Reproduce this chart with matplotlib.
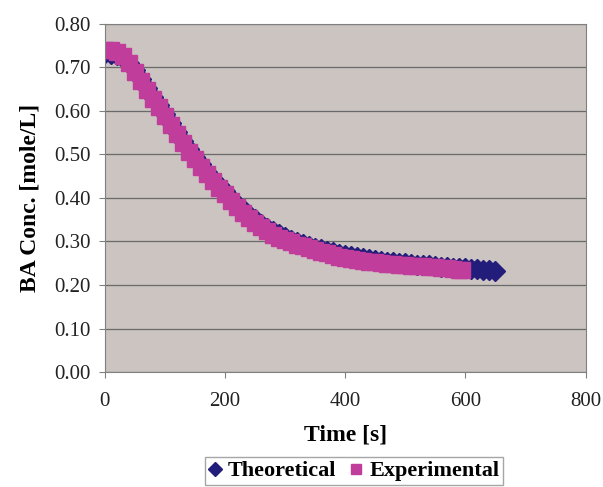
import matplotlib.pyplot as plt

# Experimental data (time [s], concentration [mole/L])
t_exp = [0, 10, 20, 30, 40, 50, 60, 70, 80, 90, 100, 110, 120, 130, 140,
         150, 160, 170, 180, 190, 200, 210, 220, 230, 240, 250, 260, 270,
         280, 290, 300, 310, 320, 330, 340, 350, 360, 370, 380, 390, 400,
         410, 420, 430, 440, 450, 460, 470, 480, 490, 500, 510, 520, 530,
         540, 550, 560, 570, 580, 590, 595]
c_exp = [0.740, 0.740, 0.736, 0.726, 0.710, 0.690, 0.669, 0.648, 0.628,
         0.608, 0.588, 0.567, 0.546, 0.526, 0.506, 0.489, 0.471, 0.455,
         0.439, 0.423, 0.408, 0.393, 0.379, 0.366, 0.354, 0.343, 0.333,
         0.324, 0.316, 0.309, 0.303, 0.298, 0.293, 0.289, 0.285, 0.281,
         0.277, 0.273, 0.269, 0.265, 0.262, 0.259, 0.257, 0.255, 0.253,
         0.252, 0.250, 0.249, 0.248, 0.246, 0.245, 0.244, 0.243, 0.243,
         0.242, 0.241, 0.240, 0.239, 0.237, 0.235, 0.234]

# Theoretical model
t_theo = [0, 10, 20, 30, 40, 50, 60, 70, 80, 90, 100, 110, 120, 130, 140,
          150, 160, 170, 180, 190, 200, 210, 220, 230, 240, 250, 260, 270,
          280, 290, 300, 310, 320, 330, 340, 350, 360, 370, 380, 390, 400,
          410, 420, 430, 440, 450, 460, 470, 480, 490, 500, 510, 520, 530,
          540, 550, 560, 570, 580, 590, 600, 610, 620, 630, 640, 650]
c_theo = [0.732, 0.731, 0.728, 0.722, 0.711, 0.694, 0.674, 0.653, 0.633,
          0.613, 0.593, 0.572, 0.552, 0.532, 0.513, 0.495, 0.477, 0.460,
          0.444, 0.429, 0.415, 0.401, 0.387, 0.374, 0.362, 0.351, 0.341,
          0.332, 0.324, 0.317, 0.310, 0.304, 0.299, 0.294, 0.290, 0.286,
          0.282, 0.278, 0.275, 0.272, 0.269, 0.266, 0.264, 0.262, 0.260,
          0.258, 0.256, 0.254, 0.253, 0.251, 0.250, 0.248, 0.247, 0.246,
          0.245, 0.243, 0.242, 0.241, 0.240, 0.239, 0.238, 0.237, 0.236,
          0.235, 0.234, 0.233]

plt.rcParams["font.family"] = "Liberation Serif"

fig = plt.figure(figsize=(6.03, 4.87), dpi=100)
ax = fig.add_axes([0.174, 0.236, 0.797, 0.715])
ax.set_facecolor("#CBC4C0")

ax.plot(t_theo, c_theo, linestyle="none", marker="D", markersize=10,
        color="#221C7A", label="Theoretical")
ax.plot(t_exp, c_exp, linestyle="none", marker="s", markersize=11,
        color="#C13D9C", label="Experimental")

ax.set_xlim(0, 800)
ax.set_ylim(0, 0.8)
ax.set_xticks([0, 200, 400, 600, 800])
ax.set_yticks([i / 10 for i in range(9)])
ax.yaxis.set_major_formatter(plt.FuncFormatter(lambda y, p: f"{y:.2f}"))
ax.grid(True, axis="y", color="#6A6A6A", linewidth=0.9)
ax.set_axisbelow(True)
for s in ax.spines.values():
    s.set_color("#808080")
ax.tick_params(colors="#808080", labelcolor="#222222", labelsize=15,
               length=4, direction="out")
ax.tick_params(axis="x", pad=10)
ax.tick_params(axis="y", pad=6)

ax.set_xlabel("Time [s]", fontsize=17, fontweight="bold", labelpad=10)
ax.set_ylabel("BA Conc. [mole/L]", fontsize=17, fontweight="bold", labelpad=10)

fig.legend(loc="lower center", bbox_to_anchor=(0.587, -0.018), ncol=2,
           prop={"weight": "bold", "size": 16}, frameon=True,
           fancybox=False, edgecolor="#909090", handlelength=0.6,
           handletextpad=0.3, columnspacing=0.6, borderpad=0.15,
           markerscale=0.7)

fig.savefig("out.png", dpi=100)
